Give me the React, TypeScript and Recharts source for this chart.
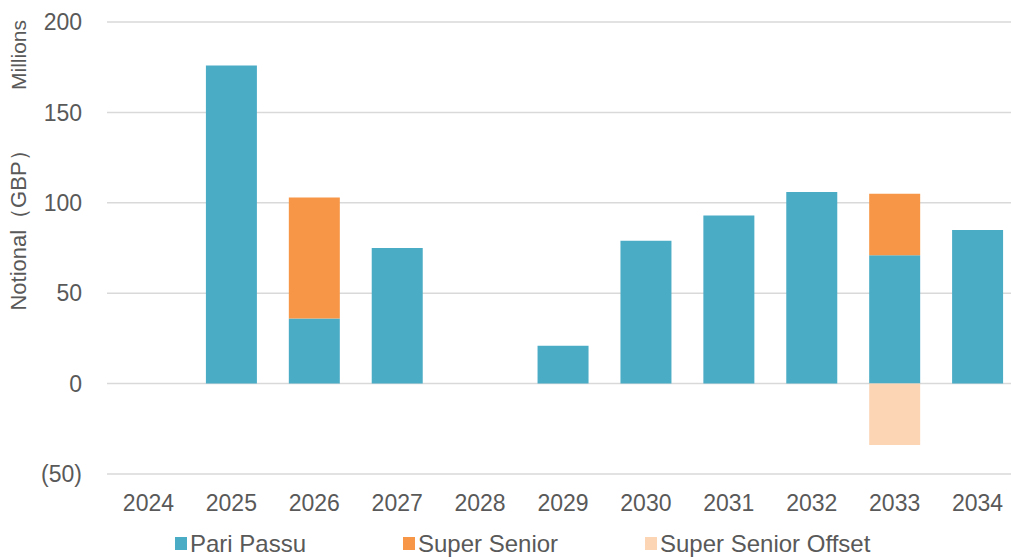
import React from 'react';
import { BarChart, Bar, XAxis, YAxis, CartesianGrid, Legend } from 'recharts';

const years = ['2024', '2025', '2026', '2027', '2028', '2029', '2030', '2031', '2032', '2033', '2034'];
const pariPassu = [0, 176, 36, 75, 0, 21, 79, 93, 106, 71, 85];
const superSenior = [0, 0, 67, 0, 0, 0, 0, 0, 0, 34, 0];
const superSeniorOffset = [0, 0, 0, 0, 0, 0, 0, 0, 0, -34, 0];
const yTicks = [-50, 0, 50, 100, 150, 200];

const data = years.map((year, i) => ({
  year,
  pariPassu: pariPassu[i],
  superSenior: superSenior[i],
  superSeniorOffset: superSeniorOffset[i],
}));

const FONT = '"Liberation Sans", Arial, sans-serif';
const TEXT = '#595959';

const legendItems = [
  { label: 'Pari Passu', color: '#4BACC6', width: 228 },
  { label: 'Super Senior', color: '#F79646', width: 242 },
  { label: 'Super Senior Offset', color: '#FCD5B5', width: 300 },
];

const renderLegend = () => (
  <div
    style={{
      height: 35,
      boxSizing: 'border-box',
      paddingLeft: 175,
      paddingTop: 4,
      display: 'flex',
      alignItems: 'center',
      fontFamily: FONT,
      fontSize: 24,
      color: TEXT,
    }}
  >
    {legendItems.map((it) => (
      <div key={it.label} style={{ width: it.width, display: 'flex', alignItems: 'center', whiteSpace: 'nowrap' }}>
        <span style={{ width: 12, height: 13, background: it.color, marginRight: 3, display: 'inline-block' }} />
        {it.label}
      </div>
    ))}
  </div>
);

const fmt = (v: number) => (v < 0 ? `(${-v})` : `${v}`);

export default function App() {
  return (
    <div style={{ position: 'absolute', left: 0, top: 0, width: 1011, height: 559, overflow: 'hidden', background: '#fff' }}>
      <BarChart
        width={1030}
        height={559}
        data={data}
        stackOffset="sign"
        margin={{ top: 22, right: 11, bottom: 0, left: 0 }}
      >
        <CartesianGrid vertical={false} stroke="#d9d9d9" strokeWidth={1.5} />
        <XAxis
          dataKey="year"
          axisLine={false}
          tickLine={false}
          height={50}
          tickMargin={15}
          tick={{ fill: TEXT, fontSize: 23, fontFamily: FONT }}
        />
        <YAxis
          domain={[-50, 200]}
          ticks={yTicks}
          tickFormatter={fmt}
          axisLine={false}
          tickLine={false}
          width={107}
          tickMargin={19}
          tick={{ fill: TEXT, fontSize: 23, fontFamily: FONT }}
        />
        <Legend verticalAlign="bottom" content={renderLegend} />
        <Bar dataKey="pariPassu" name="Pari Passu" stackId="a" fill="#4BACC6" barSize={51} isAnimationActive={false} />
        <Bar dataKey="superSenior" name="Super Senior" stackId="a" fill="#F79646" barSize={51} isAnimationActive={false} />
        <Bar dataKey="superSeniorOffset" name="Super Senior Offset" stackId="a" fill="#FCD5B5" barSize={51} isAnimationActive={false} />
      </BarChart>
      <div
        style={{
          position: 'absolute',
          left: 19,
          top: 55,
          transform: 'translate(-50%, -50%) rotate(-90deg)',
          whiteSpace: 'nowrap',
          fontFamily: FONT,
          fontSize: 21,
          color: TEXT,
        }}
      >
        Millions
      </div>
      <div
        style={{
          position: 'absolute',
          left: 19,
          top: 225,
          transform: 'translate(-50%, -50%) rotate(-90deg)',
          whiteSpace: 'nowrap',
          fontFamily: FONT,
          fontSize: 22,
          color: TEXT,
        }}
      >
        Notional（GBP）
      </div>
    </div>
  );
}
